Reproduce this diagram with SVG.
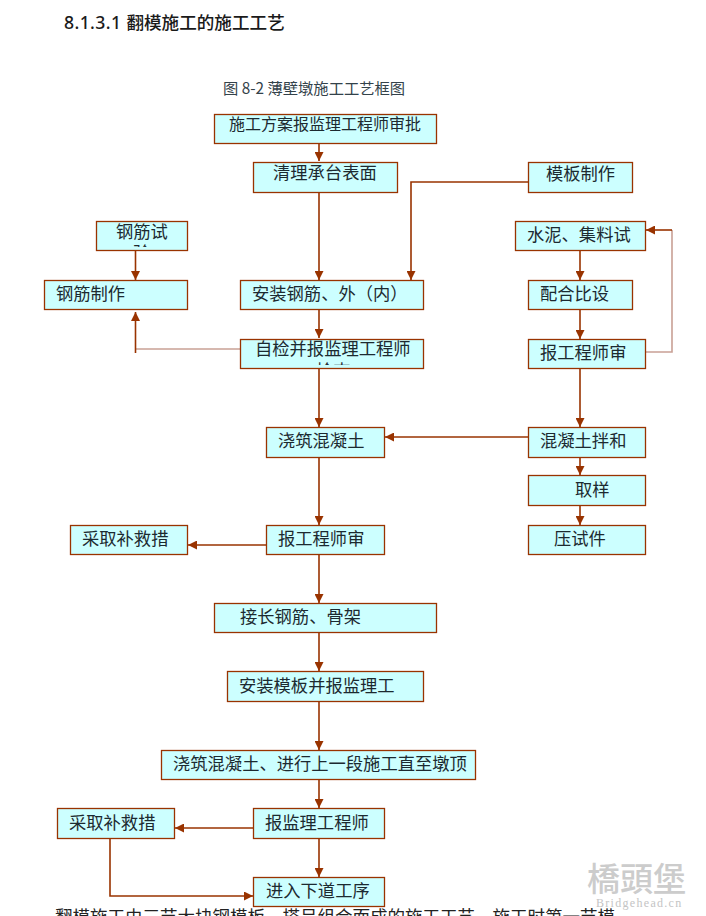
<svg xmlns="http://www.w3.org/2000/svg" width="706" height="916" viewBox="0 0 706 916">
<style>
.b{fill:#ccffff;stroke:#993300;stroke-width:1.3}
.t{font-family:"Noto Sans CJK SC","Liberation Sans",sans-serif;font-size:17.3px;fill:#1c2a30}
.c{fill:none;stroke:#993300;stroke-width:1.6}
.p{fill:none;stroke:#c9a095;stroke-width:1.6}
.h{fill:#993300}
</style>
<defs>
<marker id="a" viewBox="0 0 10 10" refX="10" refY="5" markerWidth="9" markerHeight="9" markerUnits="userSpaceOnUse" orient="auto"><path class="h" d="M0 0L10 5L0 10Z"/></marker>
<clipPath id="c1"><rect x="96" y="221" width="91" height="26"/></clipPath>
<clipPath id="c2"><rect x="240" y="339" width="183" height="26"/></clipPath>
</defs>
<rect width="706" height="916" fill="#fff"/>
<text x="64" y="29" font-family="'Noto Sans','Noto Sans CJK SC',sans-serif" font-size="17.600" font-weight="500" fill="#1a1a1a" xml:space="preserve"><tspan letter-spacing="0.4">8.1.3.1 </tspan>翻模施工的施工工艺</text>
<text x="223" y="94" font-family="'Noto Sans CJK SC',sans-serif" font-size="15.300" fill="#33424a">图 8-2 薄壁墩施工工艺框图</text>
<g id="connectors">
<path class="c" marker-end="url(#a)" d="M319 143V161"/>
<path class="c" marker-end="url(#a)" d="M319 192V280"/>
<path class="c" marker-end="url(#a)" d="M528 182H411V280"/>
<path class="c" marker-end="url(#a)" d="M135.500 250V280"/>
<path class="c" marker-end="url(#a)" d="M319 309V338"/>
<path class="p" d="M240 349H135.500"/>
<path class="c" marker-end="url(#a)" d="M135.500 353V312"/>
<path class="c" marker-end="url(#a)" d="M319 368V427"/>
<path class="c" marker-end="url(#a)" d="M580 250V280"/>
<path class="c" marker-end="url(#a)" d="M580 309V339"/>
<path class="p" d="M645 352H672V230"/>
<path class="c" marker-end="url(#a)" d="M672 230H646"/>
<path class="c" marker-end="url(#a)" d="M580 368V427"/>
<path class="c" marker-end="url(#a)" d="M528 437H385"/>
<path class="c" marker-end="url(#a)" d="M580 457V475"/>
<path class="c" marker-end="url(#a)" d="M580 505V525"/>
<path class="c" marker-end="url(#a)" d="M319 457V525"/>
<path class="c" marker-end="url(#a)" d="M266 545H188"/>
<path class="c" marker-end="url(#a)" d="M319 554V603"/>
<path class="c" marker-end="url(#a)" d="M319 632V671"/>
<path class="c" marker-end="url(#a)" d="M319 701V750"/>
<path class="c" marker-end="url(#a)" d="M319 779V808"/>
<path class="c" marker-end="url(#a)" d="M253 828H175"/>
<path class="c" marker-end="url(#a)" d="M319 838V877"/>
<path class="c" marker-end="url(#a)" d="M110 838V896H253"/>
</g>
<g id="n1"><rect class="b" x="214.500" y="114.500" width="222" height="29"/><text class="t" style="font-size:16px" x="229" y="130">施工方案报监理工程师审批</text></g>
<g id="n2"><rect class="b" x="253.500" y="162.500" width="144" height="30"/><text class="t" x="273" y="179">清理承台表面</text></g>
<g id="n3"><rect class="b" x="528.500" y="162.500" width="104" height="30"/><text class="t" x="546" y="180">模板制作</text></g>
<g id="n4"><rect class="b" x="96.500" y="221.500" width="91" height="29"/><text class="t" x="116" y="238">钢筋试</text><text class="t" clip-path="url(#c1)" x="133" y="259">验</text></g>
<g id="n5"><rect class="b" x="515.500" y="221.500" width="130" height="29"/><text class="t" x="527" y="241">水泥、集料试</text></g>
<g id="n6"><rect class="b" x="44.500" y="280.500" width="143" height="29"/><text class="t" x="56" y="300">钢筋制作</text></g>
<g id="n7"><rect class="b" x="240.500" y="280.500" width="183" height="29"/><text class="t" x="252" y="300">安装钢筋、外（内）</text></g>
<g id="n8"><rect class="b" x="528.500" y="280.500" width="104" height="29"/><text class="t" x="540" y="300">配合比设</text></g>
<g id="n9"><rect class="b" x="240.500" y="339.500" width="183" height="29"/><text class="t" x="255" y="355">自检并报监理工程师</text><text class="t" clip-path="url(#c2)" x="316" y="377">检查</text></g>
<g id="n10"><rect class="b" x="528.500" y="339.500" width="117" height="29"/><text class="t" x="540" y="359">报工程师审</text></g>
<g id="n11"><rect class="b" x="266.500" y="427.500" width="118" height="30"/><text class="t" x="278" y="447">浇筑混凝土</text></g>
<g id="n12"><rect class="b" x="528.500" y="427.500" width="117" height="30"/><text class="t" x="540" y="447">混凝土拌和</text></g>
<g id="n13"><rect class="b" x="528.500" y="475.500" width="117" height="30"/><text class="t" x="575" y="496">取样</text></g>
<g id="n14"><rect class="b" x="70.500" y="525.500" width="117" height="29"/><text class="t" x="82" y="545">采取补救措</text></g>
<g id="n15"><rect class="b" x="266.500" y="525.500" width="118" height="29"/><text class="t" x="278" y="545">报工程师审</text></g>
<g id="n16"><rect class="b" x="528.500" y="525.500" width="117" height="29"/><text class="t" x="554" y="545">压试件</text></g>
<g id="n17"><rect class="b" x="214.500" y="603.500" width="222" height="29"/><text class="t" x="240" y="623">接长钢筋、骨架</text></g>
<g id="n18"><rect class="b" x="227.500" y="671.500" width="196" height="30"/><text class="t" x="239" y="692">安装模板并报监理工</text></g>
<g id="n19"><rect class="b" x="161.500" y="750.500" width="314" height="29"/><text class="t" x="173" y="770">浇筑混凝土、进行上一段施工直至墩顶</text></g>
<g id="n20"><rect class="b" x="57.500" y="808.500" width="117" height="30"/><text class="t" x="69" y="829">采取补救措</text></g>
<g id="n21"><rect class="b" x="253.500" y="808.500" width="131" height="30"/><text class="t" x="265" y="829">报监理工程师</text></g>
<g id="n22"><rect class="b" x="253.500" y="877.500" width="131" height="29"/><text class="t" x="266" y="897">进入下道工序</text></g>
<text x="55" y="923" font-family="'Noto Sans CJK SC',sans-serif" font-size="17.500" fill="#222">翻模施工由三节大块钢模板、搭呈组合而成的施工工艺，施工时第一节模</text>
<text x="587" y="891" font-family="'Noto Sans CJK TC',sans-serif" font-size="33" font-weight="500" fill="#cccccc">橋頭堡</text>
<text x="596" y="907" font-family="'Liberation Serif',serif" font-size="12" letter-spacing="1.300" fill="#c4c4c4">Bridgehead.cn</text>
</svg>
